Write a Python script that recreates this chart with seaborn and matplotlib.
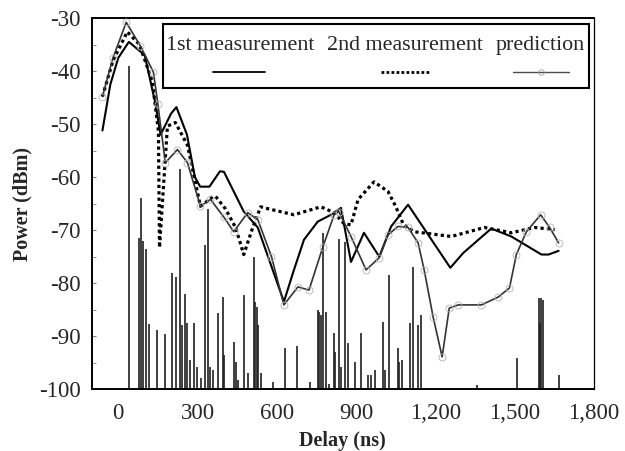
import matplotlib
matplotlib.use('Agg')
import matplotlib.pyplot as plt
from matplotlib.patches import Rectangle
from matplotlib.ticker import FuncFormatter
import seaborn as sns
import pandas as pd

# impulse response bars (delay in ns, peak power in dBm)
bar_ns = [42, 80, 87, 95, 106, 118, 148, 178, 205, 220, 232, 240, 251, 262, 273, 285,
          298, 312, 327, 338, 346, 360, 376, 395, 400, 437, 444, 455, 475, 490, 513, 517,
          524, 528, 540, 585, 630, 676, 725, 755, 760, 767, 775, 786, 798, 816, 822,
          835, 845, 858, 870, 896, 919, 945, 955, 972, 1002, 1008, 1025, 1059, 1063,
          1075, 1105, 1116, 1135, 1147, 1359, 1511, 1591, 1596, 1599, 1606, 1667]
bar_top = [-39, -71.4, -63.9, -72, -73.5, -87.7, -88.8, -89.6, -78, -78.8, -58.4, -87.9,
           -82, -87.5, -94.5, -87.5, -95.8, -97.9, -72.8, -66.1, -95.8, -96.4, -85.6,
           -82.6, -93.6, -91.1, -94.9, -98.3, -82.2, -97, -75, -83.5, -84.5, -87.9, -97,
           -98.7, -92.2, -91.8, -98.7, -85, -85.5, -86, -70.5, -85.4, -99, -89.4, -93,
           -71.6, -95.8, -72.2, -91.3, -94.9, -89.4, -97.3, -97.3, -96.4, -87.3, -96.4,
           -78.4, -92.2, -94.9, -94.5, -87.5, -76.9, -87.9, -86, -99.2, -94.1, -82.8,
           -87.5, -82.8, -83.2, -97.3]

# 1st measurement
m1_ns = [-60, -30, 0, 40, 100, 140, 160, 200, 220, 260, 290, 310, 345, 385, 400, 475,
         528, 627, 665, 703, 755, 805, 843, 881, 930, 988, 1033, 1097, 1257, 1306, 1412,
         1488, 1602, 1629, 1667]
m1_db = [-51.2, -42.5, -37.5, -34.5, -37, -46, -52, -48, -46.8, -52, -60, -61.8, -61.8,
         -58.9, -59, -66.5, -69.5, -83.5, -77.5, -71.8, -68.4, -67.1, -65.8, -76, -70.5,
         -75, -69.3, -65.2, -77.1, -74.3, -69.7, -71.2, -74.6, -74.6, -73.9]

# 2nd measurement
m2_ns = [-60, -20, 34, 80, 129, 152, 156, 186, 216, 262, 311, 361, 368, 406, 444, 475,
         509, 539, 570, 665, 767, 817, 855, 881, 908, 968, 1021, 1050, 1080, 1120, 1261,
         1386, 1488, 1576, 1652]
m2_db = [-44.8, -38, -32.6, -35, -42, -51.4, -73.3, -50.4, -49.7, -54, -65.5, -63.6,
         -63.6, -66, -69.5, -74.6, -69.5, -65.6, -66, -67.1, -65.6, -66.7, -68.8, -69,
         -64.2, -60.9, -62.7, -65.5, -69, -70.3, -71.2, -69.5, -70.5, -69.5, -69.9]

# prediction
pr_ns = [-60, -20, 30, 84, 133, 150, 178, 224, 262, 311, 349, 399, 437, 490, 528, 580,
         627, 680, 722, 775, 817, 835, 881, 938, 988, 1021, 1059, 1097, 1135, 1158, 1192,
         1226, 1253, 1287, 1375, 1439, 1481, 1507, 1545, 1599, 1633, 1667]
pr_db = [-44.8, -37.5, -30.8, -35.3, -40.2, -46.3, -57.3, -54.8, -57.3, -65.5, -64.2,
         -67.5, -70.3, -66.7, -68, -75, -84.1, -80.7, -81.3, -73.1, -67.1, -66.5, -71.2,
         -77.5, -75.2, -70.9, -69.3, -69.5, -72.4, -77.5, -86.4, -93.9, -84.7, -84.1,
         -84.1, -82.6, -80.9, -74.6, -70.3, -67.1, -69.5, -72.4]

sns.set_style('white')
plt.rcParams['font.family'] = ['Liberation Serif', 'DejaVu Serif']
plt.rcParams['axes.unicode_minus'] = False

fig, ax = plt.subplots(figsize=(6.25, 4.51), dpi=100)
fig.subplots_adjust(left=0.147, right=0.950, top=0.960, bottom=0.137)

ax.vlines(bar_ns, -100, bar_top, color='0.12', lw=1.2, zorder=1)

sns.lineplot(x=m1_ns, y=m1_db, sort=False, estimator=None, ax=ax,
             color='black', lw=1.5, zorder=3)
sns.lineplot(x=m2_ns, y=m2_db, sort=False, estimator=None, ax=ax,
             color='black', lw=2.3, linestyle=(0, (1, 1)), zorder=3)
sns.lineplot(x=pr_ns, y=pr_db, sort=False, estimator=None, ax=ax,
             color='0.2', lw=1.2, marker='o', markersize=5, markerfacecolor='none',
             markeredgecolor='0.7', markeredgewidth=0.6, zorder=4)

ax.set_xlim(-100, 1800)
ax.set_ylim(-100, -30)
ax.set_xticks(range(0, 1801, 300))
ax.set_yticks(range(-100, -29, 10))
ax.xaxis.set_major_formatter(FuncFormatter(lambda v, p: '{:,}'.format(int(v))))
ax.tick_params(axis='both', labelsize=16.5, length=0)
ax.tick_params(axis='x', pad=10)
ax.tick_params(axis='y', pad=8)
ax.set_yticks(range(-95, -30, 10), minor=True)
ax.tick_params(axis='y', which='both', direction='in', length=3, color='0.5', left=True)
ax.set_xlabel('Delay (ns)', fontsize=14.5, fontweight='bold', labelpad=5)
ax.set_ylabel('Power (dBm)', fontsize=14.5, fontweight='bold', labelpad=5)
for s in ax.spines.values():
    s.set_color('black')
    s.set_linewidth(1.4)
ax.spines['right'].set_linewidth(0.9)

# legend: labels above line samples
ax.add_patch(Rectangle((0.141, 0.811), 0.849, 0.173, transform=ax.transAxes,
                       facecolor='white', edgecolor='black', lw=1.5, zorder=5))
labels = ['1st measurement', '2nd measurement', 'prediction']
lab_x = [0.295, 0.623, 0.893]
seg = [(0.241, 0.345), (0.576, 0.673), (0.839, 0.950)]
for i in range(3):
    ax.text(lab_x[i], 0.927, labels[i], transform=ax.transAxes, ha='center',
            va='center', fontsize=15.8, zorder=6)
ax.plot(seg[0], [0.855, 0.855], transform=ax.transAxes, color='black', lw=1.3, zorder=6)
ax.plot(seg[1], [0.855, 0.855], transform=ax.transAxes, color='black', lw=2,
        linestyle=(0, (1, 0.8)), zorder=6)
ax.plot(seg[2], [0.855, 0.855], transform=ax.transAxes, color='0.3', lw=1, zorder=6)
ax.plot([0.895], [0.855], transform=ax.transAxes, marker='o', markersize=4,
        markerfacecolor='none', markeredgecolor='0.6', markeredgewidth=0.5, zorder=6)

fig.savefig('out.png', dpi=100)
